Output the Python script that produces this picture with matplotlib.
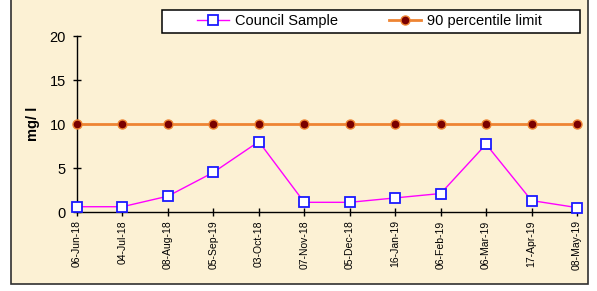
import numpy as np
import matplotlib
matplotlib.use('Agg')
import matplotlib.pyplot as plt
from matplotlib.patches import Rectangle

plt.rcParams['font.family'] = ['Liberation Sans', 'DejaVu Sans']

dates = ['06-Jun-18', '04-Jul-18', '08-Aug-18', '05-Sep-19', '03-Oct-18',
         '07-Nov-18', '05-Dec-18', '16-Jan-19', '06-Feb-19', '06-Mar-19',
         '17-Apr-19', '08-May-19']
council = [0.6, 0.6, 1.8, 4.5, 8.0, 1.1, 1.1, 1.6, 2.1, 7.7, 1.3, 0.5]
limit = [10] * len(dates)

W, H = 597, 291
fig = plt.figure(figsize=(W / 100, H / 100), dpi=100)
fig.patch.set_facecolor('white')

# parchment panel with frame
fig.patches.append(Rectangle((11 / W, 1 - 284 / H), 577 / W, 284 / H + 0.05,
                             transform=fig.transFigure, facecolor='#fcf1d4',
                             edgecolor='#303030', linewidth=1.2, zorder=-5))
# legend box
fig.patches.append(Rectangle((162 / W, 1 - 33 / H), 418 / W, 23 / H,
                             transform=fig.transFigure, facecolor='white',
                             edgecolor='black', linewidth=1.1, zorder=-4))

ax = fig.add_axes([77 / W, 1 - 212 / H, 500 / W, 176 / H])
ax.set_facecolor('none')
x = np.arange(len(dates))

ax.plot(x, limit, color='#ee8433', linewidth=2, marker='o', markersize=6.5,
        markerfacecolor='#7a0000', markeredgecolor='#ee8433', markeredgewidth=1,
        label='90 percentile limit', clip_on=False, zorder=3)
ax.plot(x, council, color='#ff00ff', linewidth=1, marker='s', markersize=7,
        markerfacecolor='white', markeredgecolor='#1a1aff', markeredgewidth=1.3,
        label='Council Sample', clip_on=False, zorder=4)

ax.set_xlim(0, len(dates) - 1)
ax.set_ylim(0, 20)
ax.set_yticks([0, 5, 10, 15, 20])
ax.set_xticks(x)
ax.set_xticklabels(dates, rotation=90, fontsize=7.5)
ax.tick_params(axis='y', labelsize=10.5, direction='inout', length=6, width=1, pad=5)
ax.tick_params(axis='x', direction='inout', length=6, width=1, pad=3)
for s in ['top', 'right']:
    ax.spines[s].set_visible(False)
for s in ['left', 'bottom']:
    ax.spines[s].set_linewidth(1)
ax.set_ylabel('mg/ l', fontsize=10.5, fontweight='bold', labelpad=7)

handles, labels = ax.get_legend_handles_labels()
leg = fig.legend(handles[::-1], labels[::-1], ncol=2, loc='center',
                 bbox_to_anchor=(369 / W, 1 - 21.5 / H), fontsize=10.5,
                 frameon=False, handlelength=2.2, columnspacing=3.5,
                 handletextpad=0.4)

fig.savefig('out.png', dpi=100)
